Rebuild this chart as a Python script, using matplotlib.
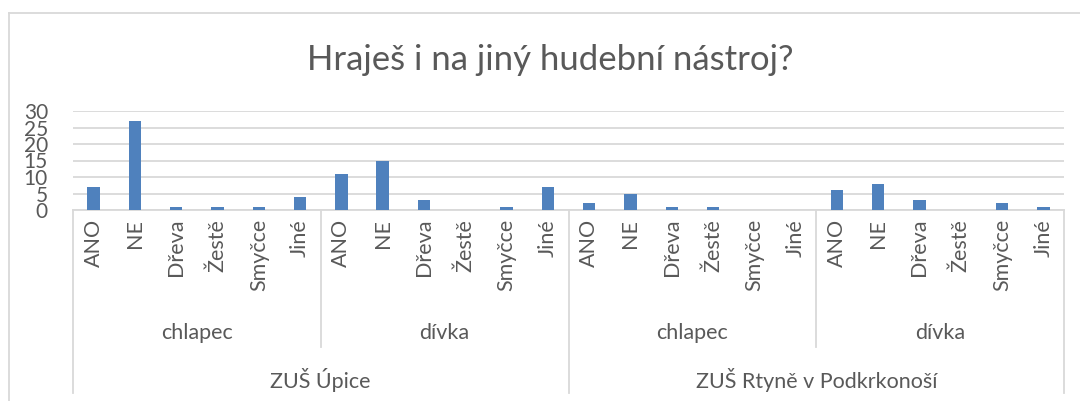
import matplotlib.pyplot as plt
import matplotlib.transforms as mtransforms
import numpy as np

plt.rcParams['font.family'] = ['Lato', 'DejaVu Sans']

# data
answers = ['ANO', 'NE', 'Dřeva', 'Žestě', 'Smyčce', 'Jiné']
genders = ['chlapec', 'dívka']
schools = ['ZUŠ Úpice', 'ZUŠ Rtyně v Podkrkonoší']

upice_chlapec = [7, 27, 1, 1, 1, 4]
upice_divka = [11, 15, 3, 0, 1, 7]
rtyne_chlapec = [2, 5, 1, 1, 0, 0]
rtyne_divka = [6, 8, 3, 0, 2, 1]

values = upice_chlapec + upice_divka + rtyne_chlapec + rtyne_divka
labels = answers * 4
x = np.arange(len(values))

text_col = '#595959'
line_col = '#d9d9d9'
W, H = 1080, 401

fig = plt.figure(figsize=(W / 100, H / 100), dpi=100)
ax = fig.add_axes([73 / W, 1 - 210 / H, (1064 - 73) / W, 99 / H])

ax.bar(x, values, width=0.3, color='#4f81bd', zorder=3)
ax.set_xlim(-0.5, len(values) - 0.5)
ax.set_ylim(0, 30)
ax.set_yticks(range(0, 31, 5))
ax.yaxis.grid(True, color=line_col, linewidth=1.3, zorder=0)
ax.tick_params(axis='y', length=0, labelsize=15, labelcolor=text_col, pad=18)
ax.set_xticks([])
for s in ['top', 'right', 'left']:
    ax.spines[s].set_visible(False)
ax.spines['bottom'].set_color(line_col)
ax.spines['bottom'].set_linewidth(1.3)

# multi-level category axis
tr = mtransforms.blended_transform_factory(ax.transData, fig.transFigure)
def fy(py):
    return 1 - py / H

for xi, lab in zip(x, labels):
    ax.text(xi, fy(219), lab, transform=tr, rotation=90, ha='center', va='top',
            fontsize=15.5, color=text_col)

for g in range(4):
    cx = g * 6 + 2.5
    ax.text(cx, fy(333), genders[g % 2], transform=tr, ha='center', va='center',
            fontsize=15.5, color=text_col)
for s in range(2):
    cx = s * 12 + 5.5
    ax.text(cx, fy(380), schools[s], transform=tr, ha='center', va='center',
            fontsize=15.5, color=text_col)

for b in range(5):
    bx = b * 6 - 0.5
    bottom = 393 if b % 2 == 0 else 347
    ax.plot([bx, bx], [fy(210), fy(bottom)], transform=tr, color=line_col,
            linewidth=1.3, clip_on=False)

# chart border
fig.add_artist(plt.Line2D([9 / W, 9 / W], [0, fy(13)], color=line_col, linewidth=1.3))
fig.add_artist(plt.Line2D([9 / W, 1], [fy(13), fy(13)], color=line_col, linewidth=1.3))

fig.text(550 / W, fy(60), 'Hraješ i na jiný hudební nástroj?', ha='center', va='center',
         fontsize=25, color=text_col)

fig.savefig('out.png', dpi=100)
